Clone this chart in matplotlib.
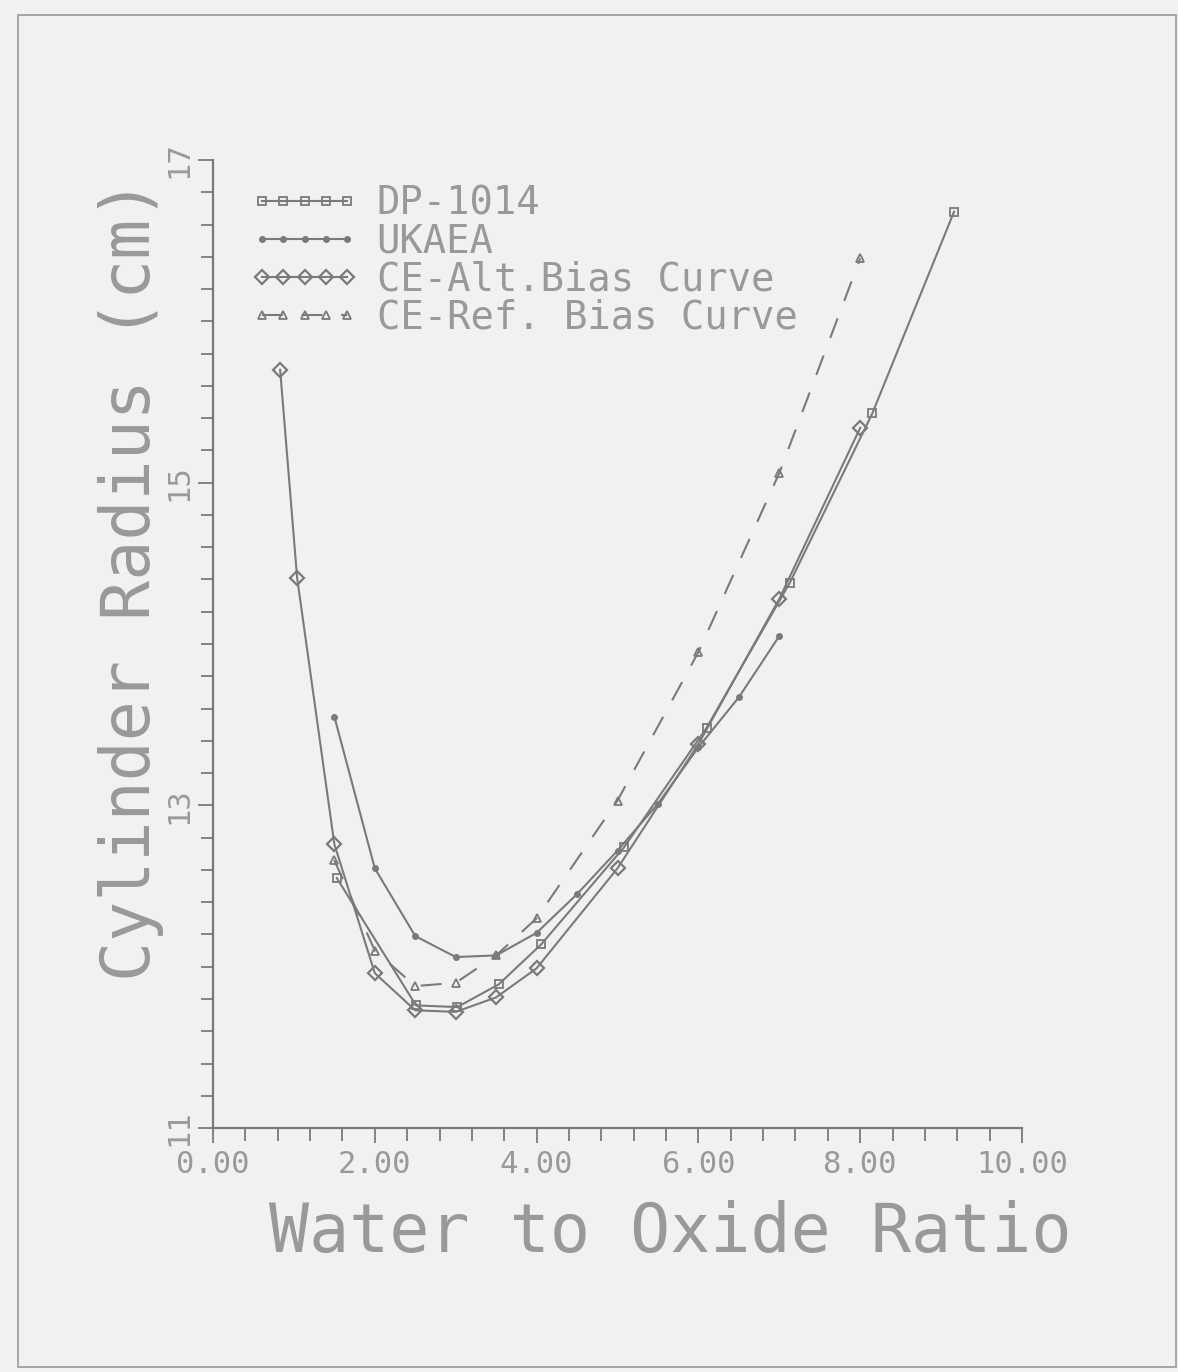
import matplotlib
matplotlib.use('Agg')
from matplotlib import pyplot as plt
from matplotlib.patches import Rectangle
from matplotlib.ticker import MultipleLocator, FixedLocator, FormatStrFormatter

# DP-1014
dp_x = [1.53, 2.51, 3.02, 3.53, 4.06, 5.08, 6.10, 7.13, 8.15, 9.16]
dp_y = [12.55, 11.76, 11.75, 11.89, 12.14, 12.74, 13.48, 14.38, 15.43, 16.68]

# UKAEA
uk_x = [1.50, 2.00, 2.50, 3.00, 3.50, 4.00, 4.50, 5.00, 5.50, 6.00, 6.50, 7.00]
uk_y = [13.55, 12.61, 12.19, 12.06, 12.07, 12.21, 12.45, 12.72, 13.01, 13.36, 13.67, 14.05]

# CE-Alt. Bias Curve
alt_x = [0.83, 1.04, 1.50, 2.00, 2.50, 3.00, 3.50, 4.00, 5.00, 6.00, 7.00, 8.00]
alt_y = [15.70, 14.41, 12.76, 11.96, 11.73, 11.72, 11.81, 11.99, 12.61, 13.38, 14.28, 15.34]

# CE-Ref. Bias Curve
ref_x = [1.50, 2.00, 2.50, 3.00, 3.50, 4.00, 5.00, 6.00, 7.00, 8.00]
ref_y = [12.66, 12.10, 11.88, 11.90, 12.07, 12.30, 13.03, 13.95, 15.06, 16.39]

y_ticks = [11, 13, 15, 17]

bg = '#f1f1f1'
ink = '#7a7a7a'
txt = '#999999'
mono = 'DejaVu Sans Mono'

fig = plt.figure(figsize=(11.78, 13.72), dpi=100, facecolor=bg)
ax = fig.add_axes([0.1808, 0.1778, 0.6868, 0.7056], facecolor=bg)

# page border
fig.patches.append(Rectangle((0.015, 0.004), 0.983, 0.985, transform=fig.transFigure,
                             fill=False, edgecolor='#9a9a9a', linewidth=1.2))

ax.plot(dp_x, dp_y, color=ink, lw=1.5, marker='s', ms=6, mfc='none', mec=ink, mew=1.3,
        label='DP-1014')
ax.plot(uk_x, uk_y, color=ink, lw=1.5, marker='o', ms=4, mfc=ink, mec=ink,
        label='UKAEA')
ax.plot(alt_x, alt_y, color=ink, lw=1.5, marker='D', ms=7, mfc='none', mec=ink, mew=1.6,
        label='CE-Alt.Bias Curve')
ax.plot(ref_x, ref_y, color=ink, lw=1.5, ls=(0, (10, 9)), marker='^', ms=6, mfc='none',
        mec=ink, mew=1.3, label='CE-Ref. Bias Curve')

ax.set_xlim(0, 10)
ax.set_ylim(11, 17)

for s in ['top', 'right']:
    ax.spines[s].set_visible(False)
for s in ['left', 'bottom']:
    ax.spines[s].set_color(ink)
    ax.spines[s].set_linewidth(1.6)

ax.xaxis.set_major_locator(MultipleLocator(2))
ax.xaxis.set_minor_locator(MultipleLocator(0.4))
ax.xaxis.set_major_formatter(FormatStrFormatter('%.2f'))
ax.yaxis.set_major_locator(FixedLocator(y_ticks))
ax.yaxis.set_minor_locator(MultipleLocator(0.2))
ax.yaxis.set_major_formatter(FormatStrFormatter('%d'))

ax.tick_params(which='both', direction='out', color=ink, width=1.3)
ax.tick_params(which='major', length=11)
ax.tick_params(which='minor', length=9)
ax.tick_params(axis='x', labelsize=22, labelcolor=txt, pad=5)
ax.tick_params(axis='y', labelsize=22, labelcolor=txt, pad=3, labelrotation=90)
for lab in ax.get_xticklabels() + ax.get_yticklabels():
    lab.set_family(mono)
for lab in ax.get_yticklabels():
    lab.set_verticalalignment('center')

ax.set_xlabel('Water to Oxide Ratio', family=mono, fontsize=48, color=txt)
ax.xaxis.set_label_coords(0.565, -0.074)
ax.set_ylabel('Cylinder Radius (cm)', family=mono, fontsize=48, color=txt)
ax.yaxis.set_label_coords(-0.06, 0.566)

leg = ax.legend(loc='upper left', bbox_to_anchor=(0.046, 0.975), frameon=False,
                numpoints=5, handlelength=2.8, handletextpad=0.45, borderpad=0,
                borderaxespad=0, labelspacing=0.0,
                prop={'family': mono, 'size': 28})
for t in leg.get_texts():
    t.set_color(txt)

fig.savefig('out.png', dpi=100, facecolor=bg)
